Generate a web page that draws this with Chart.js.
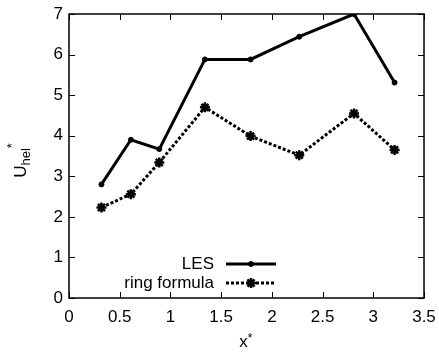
<!DOCTYPE html>
<html>
<head>
<meta charset="utf-8">
<script src="https://cdn.jsdelivr.net/npm/chart.js@4/dist/chart.umd.min.js"></script>
<style>
  html, body { margin: 0; padding: 0; background: #fff; }
  #wrap { width: 439px; height: 352px; }
</style>
</head>
<body>
<div id="wrap"><canvas id="chart" width="439" height="352"></canvas></div>
<script>
// dados
const xValues = [0.32, 0.61, 0.89, 1.34, 1.79, 2.27, 2.81, 3.21];
const lesValues = [2.80, 3.90, 3.67, 5.88, 5.88, 6.44, 7.00, 5.31];
const ringValues = [2.23, 2.56, 3.34, 4.70, 3.99, 3.52, 4.55, 3.65];
const seriesLabels = ['LES', 'ring formula'];
const xTicks = [0, 0.5, 1, 1.5, 2, 2.5, 3, 3.5];
const yTicks = [0, 1, 2, 3, 4, 5, 6, 7];

const FONT = 'Liberation Sans, Arial, sans-serif';

function toPoints(ys) {
  return xValues.map((x, i) => ({ x: x, y: ys[i] }));
}

// moldura, marcas internas e títulos dos eixos
const framePlugin = {
  id: 'frame',
  afterDraw(chart) {
    const ctx = chart.ctx;
    const a = chart.chartArea;
    const xs = chart.scales.x, ys = chart.scales.y;
    ctx.save();
    ctx.strokeStyle = '#000';
    ctx.lineWidth = 1.5;
    ctx.strokeRect(a.left, a.top, a.right - a.left, a.bottom - a.top);
    ctx.lineWidth = 1;
    ctx.beginPath();
    xTicks.forEach(v => {
      const px = Math.round(xs.getPixelForValue(v)) + 0.5;
      ctx.moveTo(px, a.bottom); ctx.lineTo(px, a.bottom - 6);
      ctx.moveTo(px, a.top); ctx.lineTo(px, a.top + 6);
    });
    yTicks.forEach(v => {
      const py = Math.round(ys.getPixelForValue(v)) + 0.5;
      ctx.moveTo(a.left, py); ctx.lineTo(a.left + 6, py);
      ctx.moveTo(a.right, py); ctx.lineTo(a.right - 6, py);
    });
    ctx.stroke();

    // título x
    ctx.fillStyle = '#000';
    ctx.font = '17px ' + FONT;
    ctx.textBaseline = 'alphabetic';
    ctx.textAlign = 'left';
    const cx = (a.left + a.right) / 2;
    const wx = ctx.measureText('x').width;
    ctx.fillText('x', cx - wx / 2 - 3, 347);
    ctx.font = '12px ' + FONT;
    ctx.fillText('*', cx + wx / 2 - 3, 342);

    // título y: U_hel^*
    ctx.translate(26, 163);
    ctx.rotate(-Math.PI / 2);
    ctx.font = '17px ' + FONT;
    const wU = ctx.measureText('U').width;
    ctx.font = '13px ' + FONT;
    const wH = ctx.measureText('hel').width;
    const sx = -(wU + wH) / 2;
    ctx.font = '17px ' + FONT;
    ctx.fillText('U', sx, 0);
    ctx.font = '13px ' + FONT;
    ctx.fillText('hel', sx + wU, 4);
    ctx.fillText('*', sx + wU + wH, -10);
    ctx.restore();
  }
};

// legenda dentro da área do gráfico
const legendPlugin = {
  id: 'innerLegend',
  afterDatasetsDraw(chart) {
    const ctx = chart.ctx;
    const rows = [264, 283];
    ctx.save();
    chart.data.datasets.forEach((ds, i) => {
      const y = rows[i];
      ctx.font = '17px ' + FONT;
      ctx.fillStyle = '#000';
      ctx.textAlign = 'right';
      ctx.textBaseline = 'middle';
      ctx.fillText(ds.label, 214, y);
      ctx.strokeStyle = ds.borderColor;
      ctx.lineWidth = ds.borderWidth;
      ctx.setLineDash(ds.borderDash || []);
      ctx.beginPath();
      ctx.moveTo(226, y); ctx.lineTo(276, y);
      ctx.stroke();
      ctx.setLineDash([]);
      ctx.lineWidth = ds.pointBorderWidth;
      ctx.fillStyle = ds.pointBackgroundColor;
      ctx.strokeStyle = ds.pointBorderColor;
      Chart.helpers.drawPoint(ctx, { pointStyle: ds.pointStyle, radius: ds.pointRadius, rotation: 0, borderWidth: ds.pointBorderWidth }, 251, y);
    });
    ctx.restore();
  }
};

new Chart(document.getElementById('chart'), {
  type: 'scatter',
  data: {
    datasets: [
      {
        label: seriesLabels[0],
        data: toPoints(lesValues),
        showLine: true,
        borderColor: '#000',
        borderWidth: 3,
        pointStyle: 'circle',
        pointRadius: 2.5,
        pointBackgroundColor: '#000',
        pointBorderColor: '#000',
        pointBorderWidth: 1
      },
      {
        label: seriesLabels[1],
        data: toPoints(ringValues),
        showLine: true,
        borderColor: '#000',
        borderWidth: 3,
        borderDash: [3, 2],
        pointStyle: 'star',
        pointRadius: 5,
        pointBackgroundColor: '#000',
        pointBorderColor: '#000',
        pointBorderWidth: 2.5
      }
    ]
  },
  options: {
    responsive: false,
    animation: false,
    layout: { padding: { left: 0, right: 15, top: 14, bottom: 0 } },
    plugins: { legend: { display: false }, tooltip: { enabled: false } },
    scales: {
      x: {
        type: 'linear',
        min: 0, max: 3.5,
        afterFit(scale) { scale.height = 54; scale.paddingLeft = 0; scale.paddingRight = 0; },
        afterBuildTicks(scale) { scale.ticks = xTicks.map(v => ({ value: v })); },
        grid: { display: false, drawTicks: false },
        border: { display: false },
        ticks: { color: '#000', font: { family: FONT, size: 17 }, padding: 9, maxRotation: 0,
                 callback: v => String(v) }
      },
      y: {
        type: 'linear',
        min: 0, max: 7,
        afterFit(scale) { scale.width = 69; scale.paddingTop = 0; scale.paddingBottom = 0; },
        afterBuildTicks(scale) { scale.ticks = yTicks.map(v => ({ value: v })); },
        grid: { display: false, drawTicks: false },
        border: { display: false },
        ticks: { color: '#000', font: { family: FONT, size: 17 }, padding: 6,
                 callback: v => String(v) }
      }
    }
  },
  plugins: [framePlugin, legendPlugin]
});
</script>
</body>
</html>
